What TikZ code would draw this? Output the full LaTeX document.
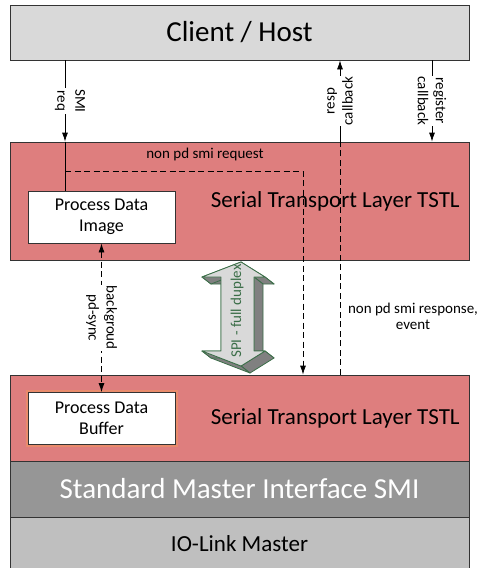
\documentclass[tikz,border=0pt]{standalone}
\usepackage{fontspec}
\setmainfont{Carlito}
\usetikzlibrary{arrows,arrows.meta}
\definecolor{hostgray}{HTML}{D9D9D9}
\definecolor{tstlred}{HTML}{DE7E7E}
\definecolor{smigray}{HTML}{969696}
\definecolor{iolgray}{HTML}{BFBFBF}
\definecolor{spigreen}{HTML}{3B6E48}
\definecolor{spidark}{HTML}{808080}
\tikzstyle{layer} = [rectangle, draw=black!80, minimum width=459pt, inner sep=0pt]
\tikzstyle{block} = [rectangle, draw=black!80, fill=white, minimum width=147pt, 
minimum height=52pt, align=center, font=\fontsize{18}{21}\selectfont]
\tikzstyle{layertext} = [font=\fontsize{23}{27}\selectfont]
\tikzstyle{big} = [font=\fontsize{29}{34}\selectfont]
\tikzstyle{lbl} = [align=center, inner sep=1pt, font=\fontsize{15}{18}\selectfont]
\tikzstyle{line} = [draw, -{Latex[length=9pt,width=6pt]}]
\tikzstyle{dline} = [draw, dash pattern=on 6pt off 3.5pt, -{Latex[length=9pt,width=6pt]}]
\tikzstyle{spiside} = [fill=spidark, draw=spigreen, line join=round]
\tikzstyle{spiface} = [fill=hostgray, draw=spigreen, line join=round]

\begin{document}
\begin{tikzpicture}[x=1pt, y=-1pt, line width=0.8pt]
	\useasboundingbox (0,0) rectangle (481,568);
	
	% layers
	\node [layer, fill=hostgray, minimum height=55pt, big] (client) at (239.5,32.5) {Client / Host};
	\node [layer, fill=tstlred, minimum height=118pt] (stlA) at (239.5,201) {};
	\node [layer, fill=tstlred, minimum height=86pt] (stlB) at (239.5,418) {};
	\node [layer, fill=smigray, minimum height=56pt, big, text=white] (smi) at (239.5,489) {Standard Master Interface SMI};
	\node [layer, fill=iolgray, minimum height=54pt, layertext] (iol) at (239.5,544) {IO-Link Master};
	\node [layertext, anchor=east] (stlAtext) at ([xshift=-6pt]stlA.east) {Serial Transport Layer TSTL};
	\node [layertext, anchor=east] (stlBtext) at ([xshift=-6pt]stlB.east) {Serial Transport Layer TSTL};
	
	% process data blocks
	\node [block] (pdi) at (101.5,217) {Process Data\\Image};
	\node [block, preaction={draw=orange!70, line width=5pt, opacity=0.35}] (pdb) at (101.5,418.5) {Process Data\\Buffer};
	
	% SPI arrow
	\coordinate (a1) at (241,262);
	\coordinate (a2) at (265,277);
	\coordinate (a3) at (254,277);
	\coordinate (a4) at (254,351);
	\coordinate (a5) at (265,351);
	\coordinate (a6) at (241,366);
	\coordinate (a7) at (202,351);
	\coordinate (a8) at (221,351);
	\coordinate (a9) at (221,277);
	\coordinate (a10) at (202,277);
	\foreach \i/\j in {1/2,2/3,3/4,4/5,5/6,6/7,7/8,8/9,9/10,10/1}
		\draw [spiside] (a\i) -- (a\j) -- ([shift={(9,7)}]a\j) -- ([shift={(9,7)}]a\i) -- cycle;
	\draw [spiface] (a1) -- (a2) -- (a3) -- (a4) -- (a5) -- (a6) -- (a7) -- (a8) -- (a9) -- (a10) -- cycle;
	\node [lbl, text=spigreen, rotate=90] (spi) at (237,311) {SPI - full duplex};
	
	% line positions
	\coordinate (xreq) at (65,0);
	\coordinate (xnon) at (303,0);
	\coordinate (xresp) at (340,0);
	\coordinate (xreg) at (432,0);
	\coordinate (fork) at (65,171);
	
	% Draw edges
	\path [line] (xreq |- client.south) -- node [lbl, fill=white, xshift=5pt, rotate=-90] {SMI\\req} (xreq |- stlA.north);
	\draw (xreq |- stlA.north) -- (xreq |- pdi.north);
	\path [dline] (fork) -| (xnon |- stlB.north);
	\node [lbl] (nonreq) at (205,154) {non pd smi request};
	\draw [dash pattern=on 6pt off 3.5pt] (xresp |- stlB.north) -- (xresp |- stlA.north);
	\path [line] (xresp |- stlA.north) -- node [lbl, fill=white, rotate=90] {resp\\callback} (xresp |- client.south);
	\path [line] (xreg |- client.south) -- node [lbl, fill=white, rotate=-90] {register\\callback} (xreg |- stlA.north);
	\path [dline, {Latex[length=9pt,width=6pt]}-{Latex[length=9pt,width=6pt]}] (pdi.south) -- node [lbl, fill=white, rotate=-90] {backgroud\\pd-sync} (pdb.north);
	\node [lbl] (nonresp) at (413,316) {non pd smi response,\\[-2pt]event};
	
\end{tikzpicture}
\end{document}
